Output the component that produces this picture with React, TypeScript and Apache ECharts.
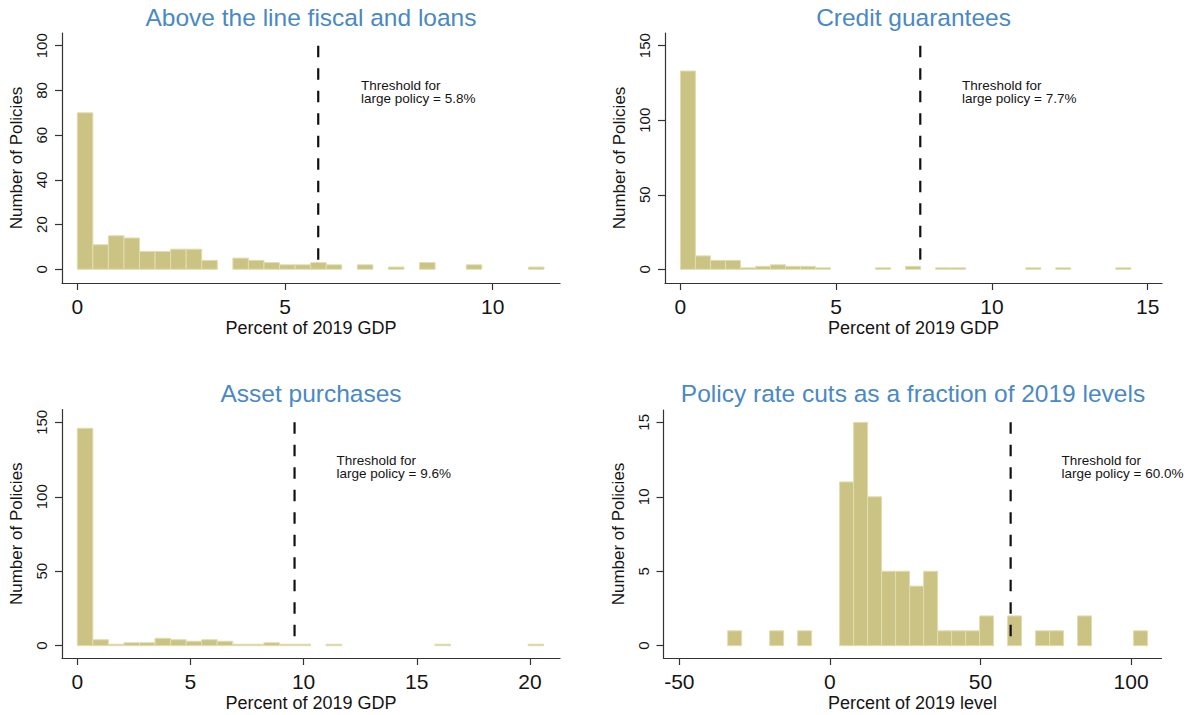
import React, { useEffect, useRef } from 'react';
import * as echarts from 'echarts';

const FONT = '"Liberation Sans", Arial, Helvetica, sans-serif';

// ---------- Data ----------
// Panel 1: Above the line fiscal and loans (30 bins from 0, % of 2019 GDP)
const fiscalCounts = [70, 11, 15, 14, 8, 8, 9, 9, 4, 0, 5, 4, 3, 2, 2, 3, 2, 0, 2, 0, 1, 0, 3, 0, 0, 2, 0, 0, 0, 1];
const fiscalBinStart = 0;
const fiscalBinWidth = 0.3745;
const fiscalThreshold = 5.8;
const fiscalXTicks = [0, 5, 10];
const fiscalYTicks = [0, 20, 40, 60, 80, 100];

// Panel 2: Credit guarantees
const creditCounts = [133, 9, 6, 6, 1, 2, 3, 2, 2, 1, 0, 0, 0, 1, 0, 2, 0, 1, 1, 0, 0, 0, 0, 1, 0, 1, 0, 0, 0, 1];
const creditBinStart = 0;
const creditBinWidth = 0.482;
const creditThreshold = 7.7;
const creditXTicks = [0, 5, 10, 15];
const creditYTicks = [0, 50, 100, 150];

// Panel 3: Asset purchases
const assetCounts = [146, 4, 1, 2, 2, 5, 4, 3, 4, 3, 1, 1, 2, 1, 1, 0, 1, 0, 0, 0, 0, 0, 0, 1, 0, 0, 0, 0, 0, 1];
const assetBinStart = 0;
const assetBinWidth = 0.687;
const assetThreshold = 9.6;
const assetXTicks = [0, 5, 10, 15, 20];
const assetYTicks = [0, 50, 100, 150];

// Panel 4: Policy rate cuts as a fraction of 2019 levels
const rateCounts = [1, 0, 0, 1, 0, 1, 0, 0, 11, 15, 10, 5, 5, 4, 5, 1, 1, 1, 2, 0, 2, 0, 1, 1, 0, 2, 0, 0, 0, 1];
const rateBinStart = -33.95;
const rateBinWidth = 4.647;
const rateThreshold = 60;
const rateXTicks = [-50, 0, 50, 100];
const rateYTicks = [0, 5, 10, 15];

const titles = [
  'Above the line fiscal and loans',
  'Credit guarantees',
  'Asset purchases',
  'Policy rate cuts as a fraction of 2019 levels',
];
const xNames = ['Percent of 2019 GDP', 'Percent of 2019 GDP', 'Percent of 2019 GDP', 'Percent of 2019 level'];
const yName = 'Number of Policies';
const thresholdLabel = (v: number) => `Threshold for\nlarge policy = ${v.toFixed(1)}%`;

// ---------- Layout / styling ----------
const BAR_FILL = '#cbc383';
const BAR_EDGE = '#e1ddb0';
const TITLE_COLOR = '#4a89c3';
const TEXT_COLOR = '#151515';
const AXIS_COLOR = '#333333';

type Panel = {
  counts: number[];
  binStart: number;
  binWidth: number;
  threshold: number;
  thresholdTop: number;
  xTicks: number[];
  yTicks: number[];
  xMin: number;
  xMax: number;
  yMin: number;
  yMax: number;
  grid: { left: number; top: number; width: number; height: number };
  titlePos: [number, number];
  notePos: [number, number];
};

const panels: Panel[] = [
  {
    counts: fiscalCounts, binStart: fiscalBinStart, binWidth: fiscalBinWidth,
    threshold: fiscalThreshold, thresholdTop: 100,
    xTicks: fiscalXTicks, yTicks: fiscalYTicks,
    xMin: -0.368, xMax: 11.62, yMin: -6.13, yMax: 105.7,
    grid: { left: 62, top: 33, width: 498, height: 250 },
    titlePos: [311, 17], notePos: [361, 78.5],
  },
  {
    counts: creditCounts, binStart: creditBinStart, binWidth: creditBinWidth,
    threshold: creditThreshold, thresholdTop: 150,
    xTicks: creditXTicks, yTicks: creditYTicks,
    xMin: -0.495, xMax: 15.46, yMin: -9.19, yMax: 158.5,
    grid: { left: 665, top: 33, width: 497, height: 250 },
    titlePos: [913.5, 17], notePos: [962, 78.5],
  },
  {
    counts: assetCounts, binStart: assetBinStart, binWidth: assetBinWidth,
    threshold: assetThreshold, thresholdTop: 150,
    xTicks: assetXTicks, yTicks: assetYTicks,
    xMin: -0.676, xMax: 21.33, yMin: -8.26, yMax: 158.6,
    grid: { left: 62, top: 409.5, width: 498, height: 248.5 },
    titlePos: [311, 393], notePos: [336.5, 454],
  },
  {
    counts: rateCounts, binStart: rateBinStart, binWidth: rateBinWidth,
    threshold: rateThreshold, thresholdTop: 15,
    xTicks: rateXTicks, yTicks: rateYTicks,
    xMin: -55.26, xMax: 110.09, yMin: -0.826, yMax: 15.83,
    grid: { left: 663.5, top: 410, width: 498, height: 248 },
    titlePos: [913, 393], notePos: [1061.5, 454],
  },
];

function buildOption() {
  const grid: any[] = [];
  const xAxis: any[] = [];
  const yAxis: any[] = [];
  const series: any[] = [];
  const graphic: any[] = [];

  panels.forEach((p, i) => {
    grid.push({ ...p.grid, containLabel: false });

    xAxis.push({
      type: 'value',
      gridIndex: i,
      min: p.xMin,
      max: p.xMax,
      axisLine: { show: true, onZero: false, lineStyle: { color: AXIS_COLOR, width: 1.2 } },
      axisTick: { show: true, length: 7, customValues: p.xTicks, lineStyle: { color: AXIS_COLOR, width: 1.2 } },
      axisLabel: {
        customValues: p.xTicks,
        fontSize: 21,
        color: TEXT_COLOR,
        fontFamily: FONT,
        margin: 13,
      },
      splitLine: { show: false },
      name: xNames[i],
      nameLocation: 'middle',
      nameGap: 36,
      nameTextStyle: { fontSize: 18, color: TEXT_COLOR, fontFamily: FONT },
    });

    yAxis.push({
      type: 'value',
      gridIndex: i,
      min: p.yMin,
      max: p.yMax,
      axisLine: { show: true, onZero: false, lineStyle: { color: AXIS_COLOR, width: 1.2 } },
      axisTick: { show: true, length: 7, customValues: p.yTicks, lineStyle: { color: AXIS_COLOR, width: 1.2 } },
      axisLabel: {
        customValues: p.yTicks,
        rotate: 90,
        fontSize: 15,
        color: TEXT_COLOR,
        fontFamily: FONT,
        margin: 13,
      },
      splitLine: { show: false },
      name: yName,
      nameLocation: 'middle',
      nameGap: 37,
      nameTextStyle: { fontSize: 17, color: TEXT_COLOR, fontFamily: FONT },
    });

    const bins = p.counts
      .map((c, k) => [p.binStart + k * p.binWidth, p.binStart + (k + 1) * p.binWidth, c])
      .filter((d) => d[2] > 0);

    series.push({
      type: 'custom',
      xAxisIndex: i,
      yAxisIndex: i,
      data: bins,
      encode: { x: [0, 1], y: 2 },
      renderItem: (_params: any, api: any) => {
        const lo = api.value(0);
        const hi = api.value(1);
        const c = api.value(2);
        const a = api.coord([lo, c]);
        const b = api.coord([hi, 0]);
        return {
          type: 'rect',
          shape: { x: a[0], y: a[1], width: b[0] - a[0], height: b[1] - a[1] },
          style: { fill: BAR_FILL, stroke: BAR_EDGE, lineWidth: 1 },
        };
      },
      z: 2,
    });

    series.push({
      type: 'line',
      xAxisIndex: i,
      yAxisIndex: i,
      data: [
        [p.threshold, p.thresholdTop],
        [p.threshold, 0],
      ],
      symbol: 'none',
      lineStyle: { color: '#111111', width: 2.2, type: [11.5, 11] },
      z: 5,
    });

    graphic.push({
      type: 'text',
      x: p.titlePos[0],
      y: p.titlePos[1],
      style: {
        text: titles[i],
        fill: TITLE_COLOR,
        fontSize: 24.5,
        fontFamily: FONT,
        align: 'center',
        verticalAlign: 'middle',
        textAlign: 'center',
        textVerticalAlign: 'middle',
      },
    });

    graphic.push({
      type: 'text',
      x: p.notePos[0],
      y: p.notePos[1],
      style: {
        text: thresholdLabel(p.threshold),
        fill: TEXT_COLOR,
        fontSize: 13.5,
        lineHeight: 13,
        fontFamily: FONT,
        align: 'left',
        verticalAlign: 'top',
        textAlign: 'left',
        textVerticalAlign: 'top',
      },
    });
  });

  return {
    animation: false,
    backgroundColor: '#ffffff',
    grid,
    xAxis,
    yAxis,
    series,
    graphic,
  };
}

export default function App() {
  const ref = useRef<HTMLDivElement>(null);
  useEffect(() => {
    if (!ref.current) return;
    const chart = echarts.init(ref.current, null, { renderer: 'svg' });
    chart.setOption(buildOption());
    return () => chart.dispose();
  }, []);
  return (
    <div
      ref={ref}
      style={{ position: 'fixed', left: 0, top: 0, width: 1196, height: 715, background: '#fff' }}
    />
  );
}
